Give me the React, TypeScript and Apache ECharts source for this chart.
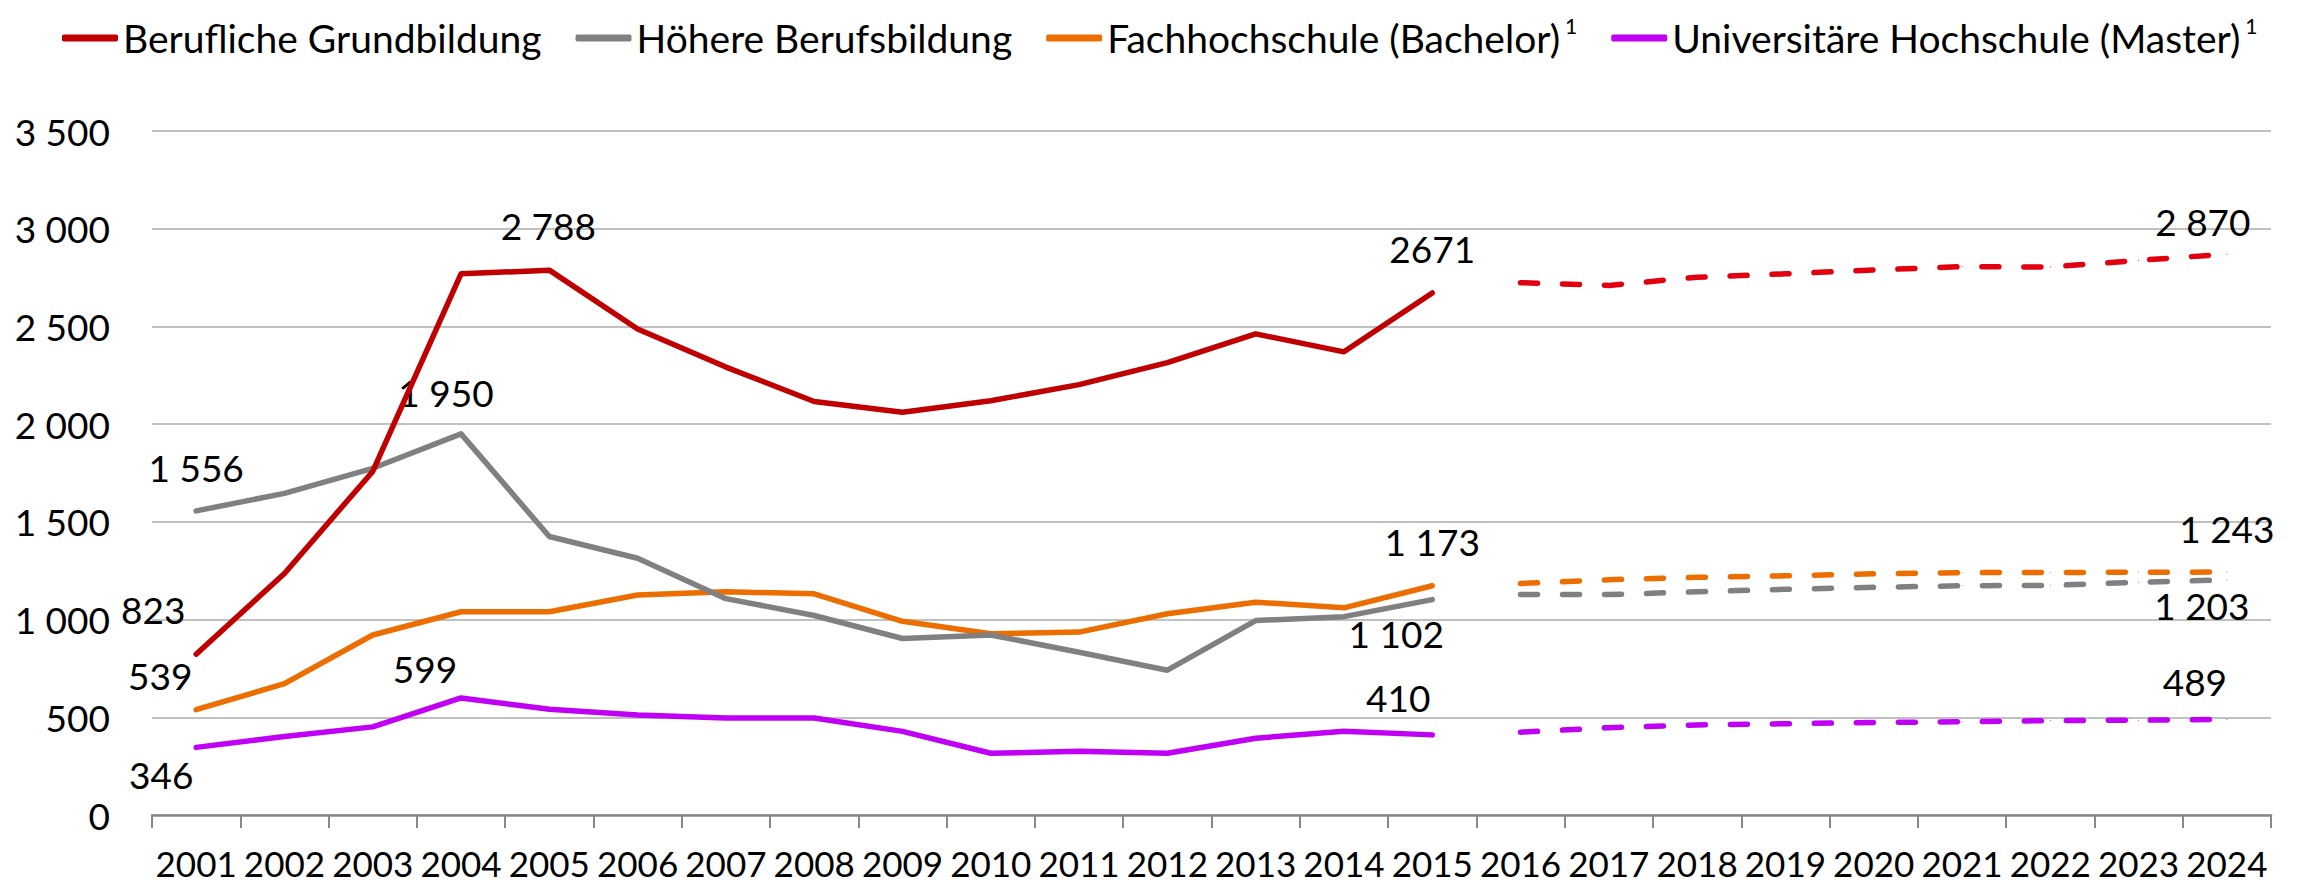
import React, { useEffect, useRef } from "react";
import * as echarts from "echarts";

const years = [
  "2001", "2002", "2003", "2004", "2005", "2006", "2007", "2008", "2009", "2010", "2011", "2012",
  "2013", "2014", "2015", "2016", "2017", "2018", "2019", "2020", "2021", "2022", "2023", "2024",
];

const seriesNames = [
  "Berufliche Grundbildung",
  "Höhere Berufsbildung",
  "Fachhochschule (Bachelor)",
  "Universitäre Hochschule (Master)",
];

// 2001–2015 observed
const grundSolid = [823, 1236, 1758, 2769, 2788, 2487, 2292, 2116, 2061, 2120, 2202, 2315, 2462, 2370, 2671];
const hoehereSolid = [1556, 1646, 1774, 1950, 1425, 1314, 1107, 1021, 903, 921, 833, 741, 995, 1015, 1102];
const fhSolid = [539, 672, 921, 1040, 1040, 1126, 1142, 1132, 991, 927, 936, 1030, 1089, 1060, 1173];
const uniSolid = [346, 402, 451, 599, 541, 512, 496, 496, 428, 316, 326, 316, 393, 428, 410];

// 2016–2024 projected
const grundProj = [2724, 2710, 2752, 2769, 2789, 2806, 2804, 2838, 2870];
const hoehereProj = [1128, 1128, 1142, 1155, 1165, 1173, 1175, 1191, 1203];
const fhProj = [1185, 1204, 1216, 1224, 1234, 1240, 1241, 1242, 1243];
const uniProj = [424, 447, 461, 467, 473, 477, 483, 485, 489];

const solidColors = ["#C00000", "#808080", "#EC6E00", "#C000F5"];
const projColors = ["#E2000F", "#808080", "#EC6E00", "#C000F5"];

// data labels: [series index, year index, text, dx, dy]
const labelSpecs: [number, number, string, number, number][] = [
  [0, 0, "823", -43, -45],
  [0, 4, "2 788", -1, -45],
  [0, 14, "2671", 0, -45],
  [0, 23, "2 870", -24, -33],
  [1, 0, "1 556", 0, -43],
  [1, 3, "1 950", -15, -41],
  [1, 14, "1 102", -36, 34],
  [1, 23, "1 203", -25, 26],
  [2, 0, "539", -36, -34],
  [2, 14, "1 173", 0, -44],
  [2, 23, "1 243", 0, -44],
  [3, 0, "346", -35, 27],
  [3, 3, "599", -36, -29],
  [3, 14, "410", -34, -37],
  [3, 23, "489", -32, -38],
];

const FONT = "Lato, 'Liberation Sans', sans-serif";

function buildData(seriesIdx: number, solid: number[], proj: number[], isProj: boolean) {
  const nSolid = solid.length;
  return years.map((_, i) => {
    let v: number | string = "-";
    if (!isProj && i < nSolid) v = solid[i];
    if (isProj && i >= nSolid) v = proj[i - nSolid];
    if (v === "-") return v;
    const spec = labelSpecs.find((s) => s[0] === seriesIdx && s[1] === i);
    if (!spec) return v;
    return {
      value: v,
      label: {
        show: true,
        position: "inside",
        offset: [spec[3], spec[4]],
        formatter: spec[2],
        fontSize: 37,
        fontFamily: FONT,
        color: "#000",
      },
    };
  });
}

export default function App() {
  const ref = useRef<HTMLDivElement>(null);

  useEffect(() => {
    document.body.style.margin = "0";
    const chart = echarts.init(ref.current!, undefined, { renderer: "svg" });
    const solids = [grundSolid, hoehereSolid, fhSolid, uniSolid];
    const projs = [grundProj, hoehereProj, fhProj, uniProj];
    const series: any[] = [];
    for (let k = 0; k < 4; k++) {
      series.push({
        name: seriesNames[k],
        type: "line",
        data: buildData(k, solids[k], projs[k], false),
        showSymbol: true,
        symbol: "circle",
        symbolSize: 1,
        itemStyle: { color: solidColors[k] },
        lineStyle: { color: solidColors[k], width: 5.5, cap: "round", join: "round" },
        connectNulls: false,
        emphasis: { disabled: true },
        silent: true,
        z: 5 - k,
      });
      series.push({
        name: seriesNames[k],
        type: "line",
        data: buildData(k, solids[k], projs[k], true),
        showSymbol: true,
        symbol: "circle",
        symbolSize: 1,
        itemStyle: { color: projColors[k] },
        lineStyle: { color: projColors[k], width: 5.5, type: [17, 25], cap: "round", join: "round" },
        connectNulls: false,
        emphasis: { disabled: true },
        silent: true,
        z: 5 - k,
      });
    }

    chart.setOption({
      animation: false,
      backgroundColor: "#fff",
      textStyle: { fontFamily: FONT },
      legend: {
        data: seriesNames.map((n, i) => ({ name: n, itemStyle: { color: solidColors[i] } })),
        left: 57,
        right: 0,
        top: 10,
        icon: "roundRect",
        itemWidth: 56,
        itemHeight: 7,
        itemGap: 34,
        selectedMode: false,
        formatter: (name: string) =>
          name === seriesNames[2] || name === seriesNames[3] ? `{t|${name}}{s|1}` : `{t|${name}}`,
        textStyle: {
          color: "#000",
          fontFamily: FONT,
          fontSize: 39,
          lineHeight: 46,
          rich: {
            t: { fontSize: 39, lineHeight: 46, fontFamily: FONT, color: "#000" },
            s: { fontSize: 21, lineHeight: 21, fontFamily: FONT, color: "#000", verticalAlign: "top", padding: [0, 0, 0, 5] },
          },
        },
      },
      grid: { left: 152, right: 32, top: 131, bottom: 70, containLabel: false },
      xAxis: {
        type: "category",
        data: years,
        boundaryGap: true,
        axisLine: { show: true, lineStyle: { color: "#888888", width: 2.5 } },
        axisTick: { show: true, length: 13, lineStyle: { color: "#888888", width: 2 } },
        axisLabel: { interval: 0, fontSize: 35, lineHeight: 34, margin: 31, color: "#000", fontFamily: FONT },
        splitLine: { show: false },
      },
      yAxis: {
        type: "value",
        min: 0,
        max: 3500,
        interval: 500,
        axisLine: { show: false },
        axisTick: { show: false },
        axisLabel: {
          fontSize: 37,
          margin: 42,
          color: "#000",
          fontFamily: FONT,
          formatter: (v: number) => (v >= 1000 ? `${Math.floor(v / 1000)} ${String(v % 1000).padStart(3, "0")}` : String(v)),
        },
        splitLine: { show: true, lineStyle: { color: "#C0C0C0", width: 2 } },
      },
      series,
    });
    return () => chart.dispose();
  }, []);

  return <div ref={ref} style={{ width: 2303, height: 885 }} />;
}
